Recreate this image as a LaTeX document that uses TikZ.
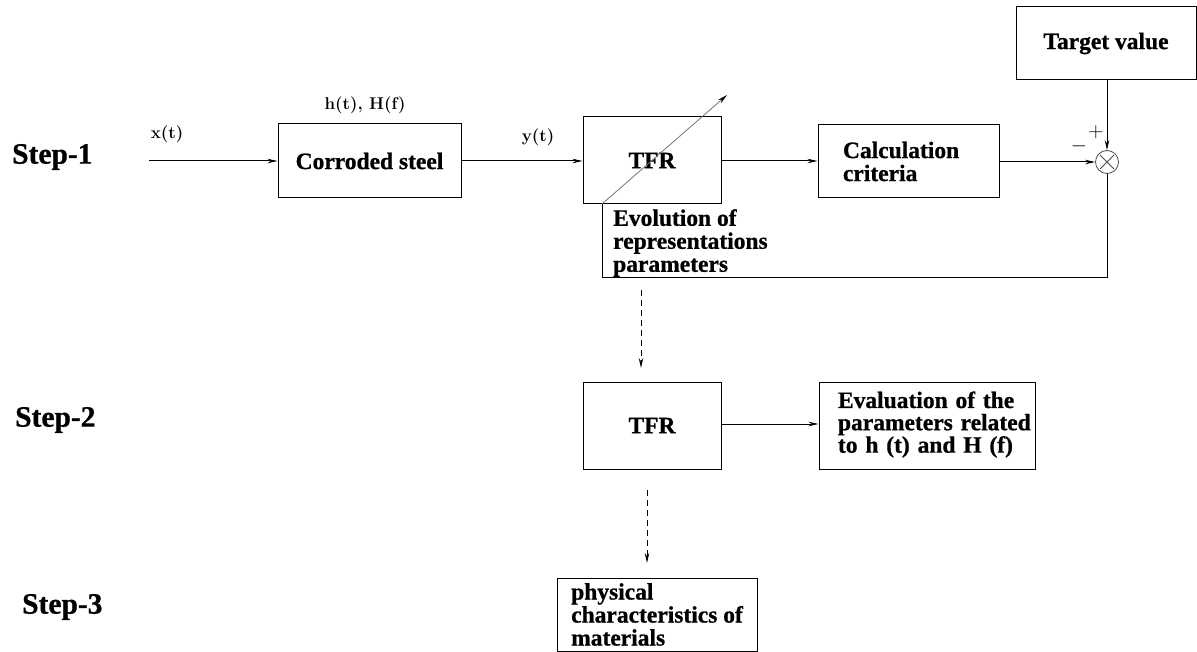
\documentclass[tikz,border=0pt]{standalone}
\usepackage{fontspec}
\newfontfamily\serifb{Liberation Serif}[BoldFeatures={FakeBold=0.8}]
\newcommand\bxfont{\serifb\bfseries\fontsize{23.5}{23}\selectfont}
\newcommand\stepfont{\serifb\bfseries\fontsize{29.5}{29.5}\selectfont}
\newcommand\sigfont{\bfseries\fontsize{17}{17}\selectfont\addfontfeatures{FakeBold=1.5}}
\usetikzlibrary{arrows.meta,calc}
\begin{document}
\begin{tikzpicture}[x=1pt,y=-1pt,
  box/.style={draw, line width=1pt, inner sep=0pt, font=\bxfont, rectangle},
  txtbox/.style={box, align=left},
  steplabel/.style={anchor=west, inner sep=0pt, font=\stepfont},
  siglabel/.style={inner sep=0pt, font=\sigfont},
  conn/.style={line width=1pt, -{Stealth[length=10pt,width=4.5pt]}},
  line/.style={line width=1pt},
  dashconn/.style={line width=1pt, dash pattern=on 6pt off 4pt, -{Stealth[length=10pt,width=4.5pt]}},
  sign/.style={inner sep=0pt, font=\fontsize{21}{21}\selectfont}
]
\useasboundingbox (0,0) rectangle (1197,652);

% step labels
\node[steplabel] (s1) at (12,157) {Step-1};
\node[steplabel] (s2) at (15,420) {Step-2};
\node[steplabel] (s3) at (22,607) {Step-3};

% step 1 blocks
\node[box, minimum width=183pt, minimum height=74pt] (steel) at (369.5,161) {Corroded steel};
\node[box, minimum width=138pt, minimum height=87pt] (tfr1) at (652,160.5) {TFR};
\node[txtbox, minimum width=181pt, minimum height=73pt, text width=131pt, inner xsep=25pt] (calc) at (908.5,161.5) {Calculation\\criteria};
\node[box, minimum width=180pt, minimum height=73pt] (target) at (1106,43.5) {Target value};
\node[circle, draw=black!70, line width=0.8pt, minimum size=23pt, inner sep=0pt] (sum) at (1107,162) {};
\draw[black!70, line width=0.8pt] ([shift={(-7pt,-7pt)}]sum.center) -- ([shift={(7pt,7pt)}]sum.center);
\draw[black!70, line width=0.8pt] ([shift={(-7pt,7pt)}]sum.center) -- ([shift={(7pt,-7pt)}]sum.center);

% labels
\node[siglabel] (xl) at (167,134) {x(t)};
\node[siglabel] (hl) at (365,105) {h(t), H(f)};
\node[siglabel] (yl) at (538,137) {y(t)};
\node[sign] (plus) at (1096,132) {+};
\node[sign] (minus) at (1079,146) {$-$};
\node[anchor=west, align=left, inner sep=0pt, font=\bxfont] (evo) at (613,243) {Evolution of\\representations\\parameters};

% step 1 connectors
\coordinate (xin) at (149,161);
\draw[conn] (xin) -- (steel.west |- xin);
\draw[conn] (steel.east |- xin) -- (tfr1.west |- xin);
\draw[conn] (tfr1.east |- xin) -- (calc.west |- xin);
\draw[conn] (calc.east |- sum.west) -- (sum.west);
\draw[conn] (target.south -| sum) -- (sum.north);
\coordinate (fb) at (602,204);
\coordinate (fbc) at (602,278);
\draw[line] (fb) -- (fbc) -| (sum.south);
\coordinate (diag) at (727,95);
\draw[line width=0.8pt, black!55, -{Stealth[length=10pt,width=4.5pt, black]}] (fb) -- (diag);

% step 2
\node[box, minimum width=138pt, minimum height=87pt] (tfr2) at (652,425.5) {TFR};
\node[txtbox, minimum width=216pt, minimum height=87pt, text width=197pt, inner xsep=0pt] (eval) at (927,425.5) {\hspace*{9.5pt}\begin{tabular}{@{}l@{}}Evaluation of the\\[-1pt]parameters related\\[-1pt]to h (t) and H (f)\end{tabular}};
\draw[conn] (tfr2.east |- 0,424) -- (eval.west |- 0,424);
\coordinate (d1s) at (641,290);
\coordinate (d1e) at (641,368);
\draw[dashconn] (d1s) -- (d1e);

% step 3
\node[txtbox, minimum width=200pt, minimum height=73pt, inner xsep=0pt, inner ysep=0pt] (phys) at (657,614.5) {physical\\characteristics of\\materials};
\coordinate (d2s) at (647,490);
\coordinate (d2e) at (647,563);
\draw[dashconn] (d2s) -- (d2e);
\end{tikzpicture}
\end{document}
